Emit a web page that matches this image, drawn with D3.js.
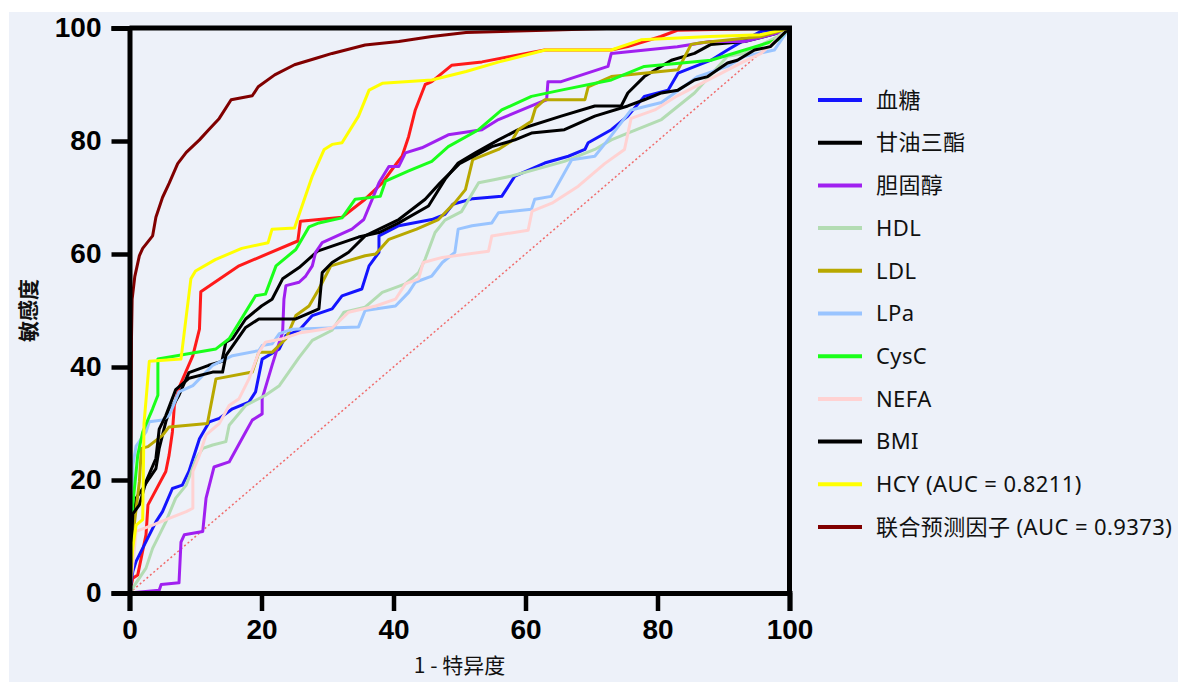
<!DOCTYPE html>
<html>
<head>
<meta charset="utf-8">
<script src="https://cdn.jsdelivr.net/npm/d3@7"></script>
<style>
  body { margin: 0; background: #fff; }
  .tick text { font-family: "Liberation Sans Narrow", "Arial Narrow", "Liberation Sans", Arial, sans-serif; font-weight: bold; font-size: 28px; fill: #000; }
  .legend text { font-family: "Noto Sans", "Noto Sans CJK SC", sans-serif; fill: #111; letter-spacing: 0.4px; }
  .title { font-family: "Noto Sans CJK SC", "Noto Sans", sans-serif; fill: #111; }
</style>
</head>
<body>
<div id="chart"></div>
<script>
// legend names, in order
var names = ["血糖", "甘油三酯", "胆固醇", "HDL", "LDL", "LPa", "CysC", "NEFA", "BMI", "HCY (AUC = 0.8211)", "联合预测因子 (AUC = 0.9373)"];
var colors = ["#1414ff", "#000000", "#a020f0", "#b3dcb3", "#b8a800", "#99c4ff", "#1aff1a", "#ffd2d2", "#000000", "#ffff00", "#800000"];
var ticks = [0, 20, 40, 60, 80, 100];

// ROC points [1-specificity, sensitivity]
var glucose = [[0,0],[0.5,3.8],[1,5.6],[2.5,9.1],[4,12.6],[5,14.4],[6.5,18.5],[8,19.1],[9,21.5],[10.6,27.3],[12.1,30.3],[13.6,30.9],[15.6,32.6],[18.1,33.8],[19.1,35.6],[20.1,41.4],[22.7,43.2],[23.7,45.6],[25.7,46.5],[27.7,49.1],[30.7,50.3],[32.2,52.6],[35.2,53.8],[36.3,57.9],[37.8,60.3],[37.8,63.2],[40.8,65],[45.8,66.1],[47.8,67],[49,68.8],[52,69.8],[56.4,70.2],[58.4,73.8],[62.9,76.1],[66.5,77.3],[69,78.5],[69.5,79.7],[73,82],[75.5,84.4],[78,87.9],[81.6,89],[83.1,92],[88.1,94.3],[90.6,96.1],[93.2,97.9],[95.7,99.4],[100,100]];
var tg = [[0,0],[0.5,11],[1,16.8],[2,18.5],[3,20.3],[4,22],[4.5,25.6],[5.5,30.3],[6,32],[7.5,35],[9,39],[12,40.3],[14,41],[14.6,44.4],[15.6,45],[17.6,48.5],[20,50.8],[21.6,52],[23.2,55.6],[25.7,57.6],[28.5,60.5],[30.7,61.4],[34.7,63],[37.8,63.8],[40.8,65.5],[45.3,68.5],[47.8,73.2],[49.8,76.1],[52.4,77.9],[55.9,80.2],[58.9,82],[65.4,84.4],[70.5,86.2],[74.5,86.2],[75.5,88.5],[78,91.4],[82.1,94.3],[85.6,95.5],[88.1,97.1],[93.2,97.6],[98.2,99.1],[100,100]];
var chol = [[0,0],[4.5,0.5],[4.8,1.5],[7.5,1.8],[7.8,9],[8.3,10.3],[11.1,10.9],[11.6,16.8],[12.8,22.3],[15.1,23.2],[17.6,28.5],[18.6,30.6],[20.1,31.7],[20.1,34.4],[21.6,40.3],[22.7,44.4],[23.2,46.1],[23.4,52],[23.7,54.4],[25.7,55],[26.7,56.1],[27.7,57.9],[28.2,60.3],[29.2,62],[33.7,64.4],[35.5,66.1],[37.8,72.6],[39.3,75.5],[40.8,75.5],[41.8,77.9],[44.3,78.8],[48.3,81.1],[53.4,82],[55.9,83.8],[60.9,86.2],[63.2,87.3],[63.4,90.5],[65.4,90.5],[72.5,93.2],[73,95.5],[83,96.7],[88,97.6],[93.2,97.6],[98.2,99.1],[100,100]];
var hdl = [[0,0],[0.5,0.9],[2.5,4.4],[3.5,7.9],[5.5,12.6],[7,16.8],[8.6,19.1],[10.1,23.8],[11.1,25.6],[12.6,26.2],[14.6,26.8],[15.1,29.7],[17.6,33.2],[20.6,35],[22.7,36.7],[25.7,41.7],[27.7,44.7],[30.7,46.5],[32.5,49.7],[35.7,50.6],[38.3,53.2],[41.8,54.7],[43.8,56.7],[44.8,59.1],[46.3,63.8],[47.8,66],[50.3,67.5],[52.9,72.6],[55.4,73.2],[57.9,73.8],[65.9,76.4],[70.5,78.5],[73,80.2],[75.5,81.4],[80.6,83.8],[85.6,88.5],[90.6,95],[93.2,95.5],[98.2,98.5],[100,100]];
var ldl = [[0,0],[0.5,10],[1.5,19.7],[1.8,25.6],[2.8,25.9],[5,27.9],[6,29.4],[11.8,30],[13.1,37.9],[18.6,39.1],[19.6,42.6],[21.6,42.6],[23.7,45],[25.2,49.1],[27.2,50.8],[28.7,53.8],[30.5,57.9],[35.7,59.7],[37.3,60],[39.3,62.6],[43.5,64.4],[46.8,66.1],[49.3,69.1],[50.9,71.4],[52,76.7],[55.9,78.5],[57.9,80],[58.9,82],[60.9,83.5],[61.5,85.8],[62.9,87.3],[69,87.3],[69.5,89.6],[73,91.4],[83.1,92.6],[85.1,97.1],[86.6,97.4],[95.7,98.5],[100,100]];
var lpa = [[0,0],[0.3,10],[0.5,22.6],[1,26],[2.5,28.5],[3,30.3],[5,30.6],[6,31.4],[7.5,35.6],[9.6,36.7],[12.6,40.3],[15.6,42],[19.6,42.9],[20.1,43.8],[21.6,44.1],[22.7,45.9],[24.7,46.7],[34.7,47.1],[35.7,50],[40.3,50.8],[42.3,53.2],[43.3,55],[45.8,56.1],[47.4,58.5],[49.3,60.3],[49.8,64.4],[51.9,65],[54.9,65.5],[55.9,67.3],[60.9,67.9],[61.4,69.7],[63.9,70.2],[67,76.7],[70.5,77.3],[72.5,80.2],[76,85.5],[80.6,86.8],[86.1,91.4],[90.6,93.2],[93.2,95],[97.7,96.1],[100,100]];
var cysc = [[0,0],[0.25,11],[0.5,15.6],[1.25,24.4],[2,28.5],[3.5,32.6],[4.3,35],[4.3,41.4],[13.1,43.2],[15.1,45],[19.1,52.6],[20.6,52.9],[22.2,57.9],[25.2,60.8],[27.2,64.8],[28.7,65.5],[32.2,66.4],[34.2,69.7],[38,70.2],[38.8,72.9],[42.3,74.7],[45.8,76.4],[48.3,79],[52.9,82],[56.4,85.5],[60.9,87.9],[65.4,89],[73,90.8],[78,93.2],[88.1,94.3],[93.2,96.1],[98.2,97.9],[100,100]];
var nefa = [[0,0],[0.5,5],[1,10.9],[3.5,12],[6,13.2],[8.6,14.4],[9.6,15],[9.6,21.5],[10.6,24.4],[11.6,28],[13.6,30],[15.1,33.2],[16.6,34.4],[18.1,37.9],[19.6,42.6],[20.6,44.4],[23.2,45],[25.7,46],[30.7,46.9],[33.2,49.7],[37.3,50.8],[40.3,52],[41.8,54.7],[43.8,55.6],[44.5,58.5],[47.4,59.4],[54.4,60.5],[54.9,63.2],[60.4,64.2],[61,67.6],[64,69],[68,72],[72,76],[75,78.5],[76,84],[79.6,85.5],[83,88],[88,91],[93,94],[95.7,95.5],[100,100]];
var bmi = [[0,0],[0.5,14],[1.5,15.6],[2.5,19.7],[4,23.8],[4.5,29],[5.5,31.4],[7,36],[9,38],[12.6,39.1],[14.1,39.1],[14.6,42],[17.6,47],[19.6,48.5],[25.2,48.5],[28.7,50.3],[29.2,56.7],[30.7,58.5],[33.2,60.3],[35.7,63.2],[40.8,66.1],[44.8,69.7],[47,72.5],[50,76],[54.9,79],[58.4,80.2],[60.9,81.4],[65.9,82],[70.5,84.4],[75.5,86.2],[78,87.3],[80.6,88.5],[83.1,89],[85.6,90.8],[87.6,91.4],[90.6,93.8],[92.1,94.3],[94.7,96.1],[97.1,96.7],[100,100]];
var hcy = [[0,0],[0.5,8],[1,12],[2,13],[2.2,30],[3,41],[7.8,41.4],[8.6,49],[9.3,55.6],[10,57],[13,59],[17,61],[21,62],[21.6,64.4],[25,64.6],[27.7,73.8],[29.5,78.5],[30.7,79.4],[32.2,79.7],[34.7,84.4],[36.3,89],[38.3,90.2],[45.8,90.8],[51,92.3],[56,94],[63,96.1],[73,96.1],[77.5,97.9],[88,98.5],[95.6,98.8],[100,100]];
var combined = [[0,0],[0.2,20],[0.3,45],[0.4,52],[0.8,56],[1.5,59.7],[2,61],[3.5,63.2],[4,66.5],[5,70],[6,72.5],[7.3,76],[8.6,78],[10.6,80.2],[12,82],[13.6,84],[15.4,87.3],[18.6,88],[19.5,89.6],[22,91.7],[25,93.5],[28.4,94.7],[30.7,95.5],[35.7,97],[40.8,97.6],[45.8,98.5],[51,99.2],[63,99.6],[75,100],[100,100]];
// red curve drawn in the figure but not listed in its legend
var unlisted = [[0,0],[0.5,2.6],[1.25,3.2],[2.5,10.3],[2.8,15.6],[5.5,21.5],[6,24.4],[6.5,28.5],[6.8,33.2],[7.55,36.5],[9.6,42],[10.6,46.7],[10.8,53.3],[16.6,57.9],[25.5,62.3],[25.9,65.8],[28.7,66.1],[32.2,66.5],[35.7,69.7],[38.3,72.6],[39.8,75],[41.3,77.3],[42.3,80.8],[43.3,85.5],[44.8,90],[45.8,90.5],[48.8,93.4],[53.4,94],[57.9,95],[62.9,96.1],[73,96.1],[75.5,96.7],[80.5,98.5],[83,99.6],[100,100]];

var series = [glucose, tg, chol, hdl, ldl, lpa, cysc, nefa, bmi, hcy, combined];

var W = 1178, H = 682;
var x = d3.scaleLinear().domain([0, 100]).range([129.5, 789.5]);
var y = d3.scaleLinear().domain([0, 100]).range([593, 28]);

var svg = d3.select("#chart").append("svg")
    .attr("width", W)
    .attr("height", H);

// panel background
svg.append("rect")
    .attr("x", 9).attr("y", 12)
    .attr("width", W - 9).attr("height", H - 12)
    .attr("fill", "#edf1f9");

// chance line
svg.append("line")
    .attr("x1", x(0)).attr("y1", y(0))
    .attr("x2", x(100)).attr("y2", y(100))
    .attr("stroke", "#f06a6a")
    .attr("stroke-width", 1.5)
    .attr("stroke-dasharray", "2,2.5");

var line = d3.line()
    .x(function(d) { return x(d[0]); })
    .y(function(d) { return y(d[1]); });

svg.append("path")
    .datum(unlisted)
    .attr("d", line)
    .attr("fill", "none")
    .attr("stroke", "#ff1a1a")
    .attr("stroke-width", 3)
    .attr("stroke-linejoin", "round");

svg.selectAll(".roc")
    .data(series)
    .enter()
    .append("path")
    .attr("class", "roc")
    .attr("d", line)
    .attr("fill", "none")
    .attr("stroke", function(d, i) { return colors[i]; })
    .attr("stroke-width", 3)
    .attr("stroke-linejoin", "round");

// frame: top and right
svg.append("path")
    .attr("d", "M" + x(0) + "," + y(100) + "H" + x(100) + "V" + y(0))
    .attr("fill", "none")
    .attr("stroke", "#000")
    .attr("stroke-width", 5);

var xAxis = svg.append("g")
    .attr("transform", "translate(0," + y(0) + ")")
    .call(d3.axisBottom(x).tickValues(ticks).tickSize(18).tickPadding(8));
var yAxis = svg.append("g")
    .attr("transform", "translate(" + x(0) + ",0)")
    .call(d3.axisLeft(y).tickValues(ticks).tickSize(18).tickPadding(10));

[xAxis, yAxis].forEach(function(g) {
  g.select(".domain").attr("stroke-width", 5).attr("stroke", "#000");
  g.selectAll(".tick line").attr("stroke-width", 4.5).attr("stroke", "#000");
});

// axis titles
svg.append("text")
    .attr("class", "title")
    .attr("x", (x(0) + x(100)) / 2)
    .attr("y", 673)
    .attr("text-anchor", "middle")
    .style("font-size", "21px")
    .text("1 - 特异度");

svg.append("text")
    .attr("class", "title")
    .attr("transform", "translate(36," + (y(50)) + ") rotate(-90)")
    .attr("text-anchor", "middle")
    .style("font-size", "21px")
    .style("font-weight", "bold")
    .text("敏感度");

// legend
var legend = svg.append("g").attr("class", "legend");
var item = legend.selectAll("g")
    .data(names)
    .enter()
    .append("g")
    .attr("transform", function(d, i) { return "translate(0," + (100 + i * 42.7) + ")"; });

item.append("line")
    .attr("x1", 818).attr("x2", 862)
    .attr("y1", 0).attr("y2", 0)
    .attr("stroke", function(d, i) { return colors[i]; })
    .attr("stroke-width", 4);

item.append("text")
    .attr("x", 876)
    .attr("dy", "0.35em")
    .style("font-size", "22px")
    .text(function(d) { return d; });
</script>
</body>
</html>
